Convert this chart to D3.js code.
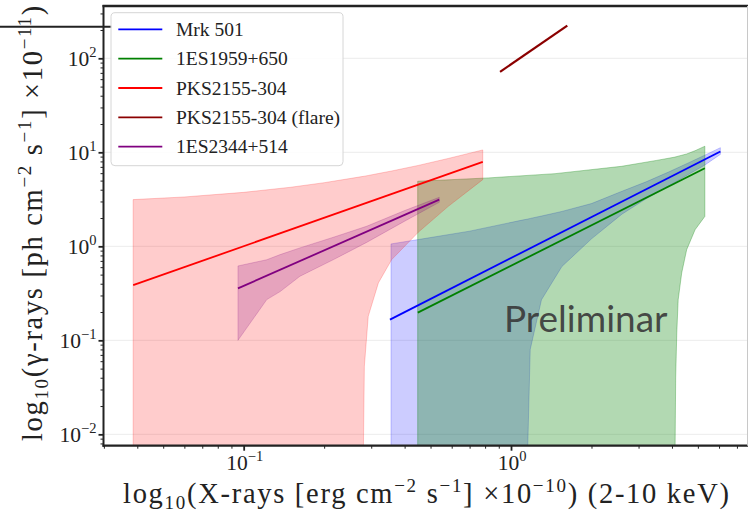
<!DOCTYPE html>
<html>
<head>
<meta charset="utf-8">
<script src="https://cdn.jsdelivr.net/npm/d3@7"></script>
<style>
  html, body { margin: 0; padding: 0; background: #fff; }
  #chart { width: 749px; height: 514px; overflow: hidden; }
  .serif { font-family: "Liberation Serif", "DejaVu Serif", serif; fill: #222; }
</style>
</head>
<body>
<div id="chart"></div>
<script>
// values
const seriesNames = ["Mrk 501", "1ES1959+650", "PKS2155-304", "PKS2155-304 (flare)", "1ES2344+514"];
const seriesColors = ["#0000ff", "#008000", "#ff0000", "#8b0000", "#800080"];

// fitted power laws (end points)
const mrkLineX = [0.3525, 6.07],  mrkLineY = [0.166, 10.2];
const esLineX  = [0.448, 5.31],   esLineY  = [0.197, 6.76];
const pksLineX = [0.0386, 0.784], pksLineY = [0.386, 7.9];
const flareLineX = [0.910, 1.624], flareLineY = [71.7, 222.8];
const es2LineX = [0.0952, 0.539], es2LineY = [0.357, 3.14];

// uncertainty bands (null = falls below the axis)
const mrkBandX  = [0.3557, 0.45, 0.7, 1.1, 1.155, 1.18, 1.3, 1.55, 2.0, 2.6, 3.2, 3.9, 4.6, 5.3, 6.07];
const mrkBandHi = [1.06, 1.18, 1.45, 1.9, 1.95, 1.98, 2.1, 2.35, 2.85, 3.85, 4.85, 6.2, 7.7, 9.3, 11.2];
const mrkBandLo = [null, null, null, null, null, 0.08, 0.27, 0.61, 1.2, 2.2, 3.2, 4.4, 5.8, 7.3, 9.5];

const esBandX  = [0.4476, 0.822, 1.461, 2.595, 3.5, 4.11, 4.13, 4.17, 4.22, 4.35, 4.54, 4.88, 5.31];
const esBandHi = [4.92, 5.34, 5.93, 7.1, 8.2, 8.9, 8.95, 9.0, 9.1, 9.3, 9.6, 10.4, 11.6];
const esBandLo = [null, null, null, null, null, null, 0.04, 0.12, 0.27, 0.52, 0.92, 1.5, 2.08];

const pksBandX  = [0.0386, 0.06, 0.1, 0.15, 0.2, 0.2805, 0.2828, 0.2924, 0.3191, 0.3578, 0.4498, 0.5824, 0.784];
const pksBandHi = [3.14, 3.35, 3.75, 4.25, 4.75, 5.55, 5.57, 5.67, 5.95, 6.33, 7.25, 8.6, 10.6];
const pksBandLo = [null, null, null, null, null, null, 0.053, 0.18, 0.408, 0.722, 1.41, 2.66, 5.12];

const es2BandX  = [0.0952, 0.122, 0.1369, 0.1623, 0.2168, 0.2883, 0.4, 0.539];
const es2BandHi = [0.618, 0.72, 0.816, 0.962, 1.25, 1.633, 2.4, 3.32];
const es2BandLo = [0.10, 0.271, 0.33, 0.48, 0.722, 1.1, 1.85, 2.94];

const xDomain = [0.0299, 7.7];
const yDomain = [0.00757, 360];
const xMajor = [0.1, 1];
const yMajor = [0.01, 0.1, 1, 10, 100];

document.addEventListener("DOMContentLoaded", () => {
  const W = 749, H = 514;
  const left = 103.5, right = 748, top = 6, bottom = 445.7;

  const svg = d3.select("#chart").append("svg")
    .attr("width", W).attr("height", H);

  const x = d3.scaleLog().domain(xDomain).range([left, right]);
  const y = d3.scaleLog().domain(yDomain).range([bottom, top]);

  svg.append("clipPath").attr("id", "plotClip")
    .append("rect")
    .attr("x", left).attr("y", top)
    .attr("width", right - left).attr("height", bottom - top);

  // faint grid at major y ticks
  svg.append("g").selectAll("line")
    .data(yMajor).enter().append("line")
    .attr("x1", left).attr("x2", right)
    .attr("y1", d => y(d)).attr("y2", d => y(d))
    .attr("stroke", "#ececec").attr("stroke-width", 1);

  const plot = svg.append("g").attr("clip-path", "url(#plotClip)");

  const bands = [
    { xs: mrkBandX, hi: mrkBandHi, lo: mrkBandLo, c: seriesColors[0], a: 0.2 },
    { xs: esBandX,  hi: esBandHi,  lo: esBandLo,  c: seriesColors[1], a: 0.3 },
    { xs: pksBandX, hi: pksBandHi, lo: pksBandLo, c: seriesColors[2], a: 0.2 },
    { xs: es2BandX, hi: es2BandHi, lo: es2BandLo, c: seriesColors[4], a: 0.2 }
  ];

  const area = d3.area()
    .x(d => x(d.x))
    .y0(d => d.lo == null ? y(yDomain[0]) + 2 : y(d.lo))
    .y1(d => y(d.hi));

  bands.forEach(b => {
    const pts = b.xs.map((v, i) => ({ x: v, hi: b.hi[i], lo: b.lo[i] }));
    plot.append("path")
      .datum(pts)
      .attr("d", area)
      .attr("fill", b.c)
      .attr("fill-opacity", b.a)
      .attr("stroke", b.c)
      .attr("stroke-opacity", b.a)
      .attr("stroke-width", 1);
  });

  const lines = [
    [mrkLineX, mrkLineY], [esLineX, esLineY], [pksLineX, pksLineY],
    [flareLineX, flareLineY], [es2LineX, es2LineY]
  ];
  const line = d3.line().x(d => x(d[0])).y(d => y(d[1]));
  lines.forEach((l, i) => {
    plot.append("path")
      .datum(l[0].map((v, k) => [v, l[1][k]]))
      .attr("d", line)
      .attr("fill", "none")
      .attr("stroke", seriesColors[i])
      .attr("stroke-width", i == 3 ? 2.2 : 1.8);
  });

  // watermark
  svg.append("text")
    .attr("x", 504).attr("y", 331.5)
    .style("font-family", "Lato, 'Open Sans', sans-serif")
    .style("font-size", "37px")
    .attr("fill", "#3a3a3a")
    .attr("fill-opacity", 0.92)
    .text("Preliminar");

  // axes ticks
  const isMajor = d => Math.abs(Math.log10(d) - Math.round(Math.log10(d))) < 1e-9;

  const yAxisG = svg.append("g")
    .attr("transform", `translate(${left},0)`)
    .call(d3.axisLeft(y).tickValues(y.ticks()).tickFormat("").tickSizeOuter(0));
  const xAxisG = svg.append("g")
    .attr("transform", `translate(0,${bottom})`)
    .call(d3.axisBottom(x).tickValues(x.ticks()).tickFormat("").tickSizeOuter(0));

  [yAxisG, xAxisG].forEach(g => {
    g.select(".domain").remove();
    g.selectAll(".tick line")
      .attr("stroke", "#222")
      .attr("stroke-width", d => isMajor(d) ? 1.8 : 1);
  });
  yAxisG.selectAll(".tick line").attr("x2", d => isMajor(d) ? -5 : -3);
  xAxisG.selectAll(".tick line").attr("y2", d => isMajor(d) ? 5 : 3);

  // tick labels
  const exp = d => Math.round(Math.log10(d));
  const supText = d => (exp(d) < 0 ? "\u2212" + Math.abs(exp(d)) : "" + exp(d));

  const yLab = svg.append("g").selectAll("text")
    .data(yMajor).enter().append("text")
    .attr("class", "serif")
    .attr("x", left - 7)
    .attr("y", d => y(d) + 7.5)
    .attr("text-anchor", "end")
    .style("font-size", "21.5px");
  yLab.append("tspan").text("10");
  yLab.append("tspan").attr("baseline-shift", "9.5").style("font-size", "14.5px").text(supText);

  const xLab = svg.append("g").selectAll("text")
    .data(xMajor).enter().append("text")
    .attr("class", "serif")
    .attr("x", d => x(d) + 1)
    .attr("y", 469.5)
    .attr("text-anchor", "middle")
    .style("font-size", "21.5px");
  xLab.append("tspan").text("10");
  xLab.append("tspan").attr("baseline-shift", "9.5").style("font-size", "14.5px").text(supText);

  // spines
  svg.append("line").attr("x1", left).attr("x2", left).attr("y1", top - 1).attr("y2", bottom + 1)
    .attr("stroke", "#222").attr("stroke-width", 2);
  svg.append("line").attr("x1", left - 1).attr("x2", right).attr("y1", top).attr("y2", top)
    .attr("stroke", "#222").attr("stroke-width", 2.4);
  svg.append("line").attr("x1", left - 1).attr("x2", right).attr("y1", bottom).attr("y2", bottom)
    .attr("stroke", "#222").attr("stroke-width", 2.2);
  svg.append("line").attr("x1", right - 0.5).attr("x2", right - 0.5).attr("y1", top).attr("y2", bottom)
    .attr("stroke", "#c8c8c8").attr("stroke-width", 1);

  // axis titles
  function rich(sel, parts) {
    parts.forEach(p => {
      const t = sel.append("tspan").text(p[0]);
      if (p[1] == "sub") t.attr("baseline-shift", "-6").style("font-size", "19px");
      if (p[1] == "sup") t.attr("baseline-shift", "11").style("font-size", "19px");
    });
  }

  const xTitle = svg.append("text")
    .attr("class", "serif")
    .attr("x", 123).attr("y", 502.5)
    .style("font-size", "28.5px");
  rich(xTitle, [["log"], ["10", "sub"], ["(X-rays [erg cm"], ["\u22122", "sup"], [" s"], ["\u22121", "sup"],
    ["] \u00d710"], ["\u221210", "sup"], [") (2-10 keV)"]]);

  const yTitle = svg.append("text")
    .attr("class", "serif")
    .attr("transform", "translate(42,441) rotate(-90)")
    .style("font-size", "28.5px");
  rich(yTitle, [["log"], ["10", "sub"], ["(\u03b3-rays [ph cm"], ["\u22122", "sup"], [" s"], ["\u22121", "sup"],
    ["] \u00d710"], ["\u221211", "sup"], [")"]]);

  // computer-modern sets wider than Times: spread the letters to the reference width
  const xNat = xTitle.node().getComputedTextLength();
  const stretch = 606 / xNat;
  xTitle.attr("textLength", 606).attr("lengthAdjust", "spacing");
  const yNat = yTitle.node().getComputedTextLength();
  yTitle.attr("textLength", yNat * stretch).attr("lengthAdjust", "spacing");

  // stray line at the upper left of the figure
  svg.append("line").attr("x1", 0).attr("x2", 112).attr("y1", 26.7).attr("y2", 26.7)
    .attr("stroke", "#222").attr("stroke-width", 2);

  // legend
  const legend = svg.append("g");
  legend.append("rect")
    .attr("x", 111).attr("y", 12.7).attr("width", 232).attr("height", 153)
    .attr("rx", 4).attr("ry", 4)
    .attr("fill", "#fff").attr("fill-opacity", 0.85)
    .attr("stroke", "#d6d6d6").attr("stroke-width", 1);
  const rows = legend.selectAll("g.row")
    .data(seriesNames).enter().append("g")
    .attr("class", "row")
    .attr("transform", (d, i) => `translate(0,${29.3 + i * 29.35})`);
  rows.append("line")
    .attr("x1", 118.3).attr("x2", 162.3)
    .attr("stroke", (d, i) => seriesColors[i]).attr("stroke-width", 1.8);
  rows.append("text")
    .attr("class", "serif")
    .attr("x", 176).attr("y", 6.5)
    .style("font-size", "19.5px")
    .text(d => d);
});
</script>
</body>
</html>
